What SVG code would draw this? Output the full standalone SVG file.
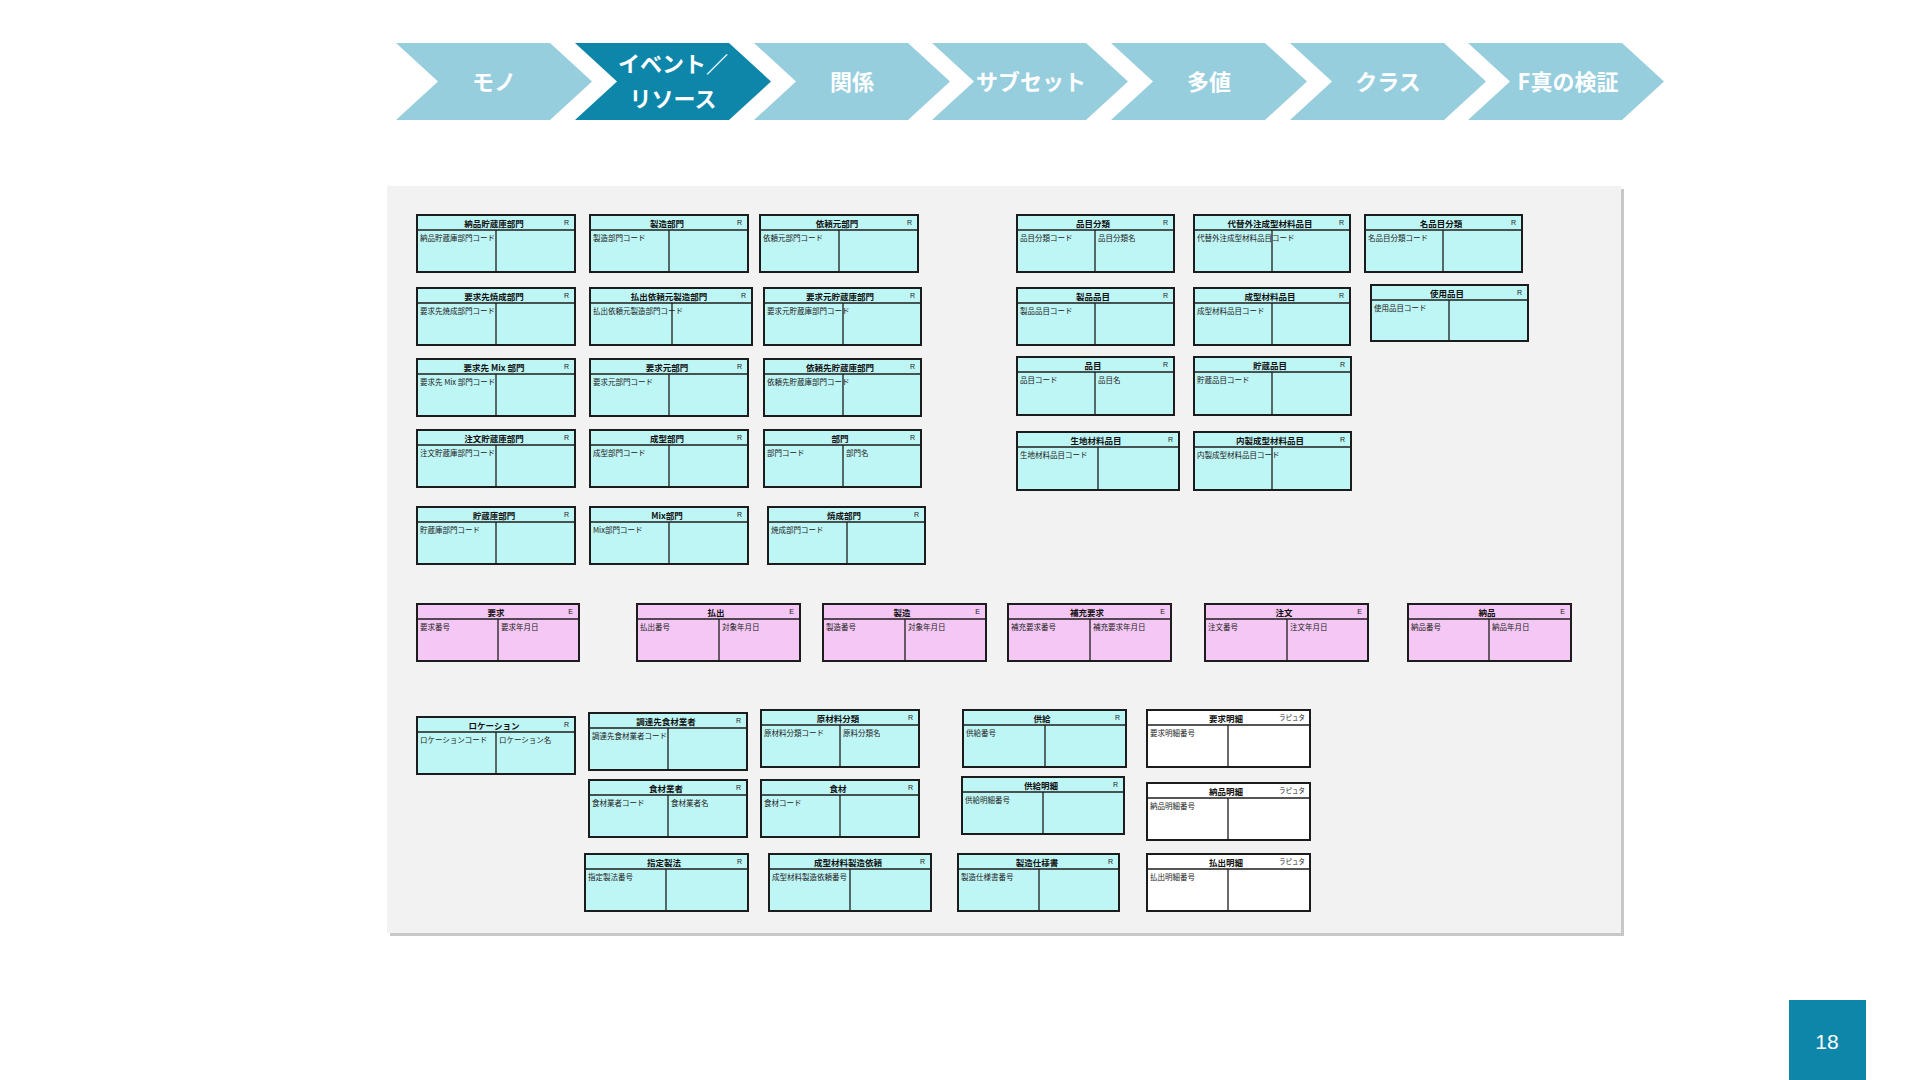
<svg xmlns="http://www.w3.org/2000/svg" width="1920" height="1080" viewBox="0 0 1920 1080">
<style>
.chev{fill:#97CEDE}
.chev.on{fill:#0E86AA}
.ct{font-family:"Noto Sans CJK JP",sans-serif;font-weight:bold;font-size:22px;fill:#fff;text-anchor:middle}
.ent rect{stroke:#1c1c1c;stroke-width:2}
.c rect{fill:#BEF5F5}
.p rect{fill:#F4C7F4}
.w rect{fill:#fff}
.ent line{stroke:#1c1c1c;stroke-width:1.3}
.t{font-family:"Noto Sans CJK JP",sans-serif;font-weight:bold;font-size:8.5px;fill:#111;text-anchor:middle}
.r{font-family:"Liberation Sans",sans-serif;font-size:7px;fill:#222;text-anchor:end}
.s{font-family:"Noto Sans CJK JP",sans-serif;font-size:6.5px;fill:#222;text-anchor:end}
.a{font-family:"Noto Sans CJK JP",sans-serif;font-size:7.5px;fill:#222}
</style>
<rect width="1920" height="1080" fill="#fff"/>
<g id="process">
<g id="step1"><polygon class="chev" points="396,43 550,43 592,81.5 550,120 396,120 438,81.5"/><text class="ct" x="494" y="90">モノ</text></g>
<g id="step2"><polygon class="chev on" points="575,43 729,43 771,81.5 729,120 575,120 617,81.5"/><text class="ct" x="673" y="72">イベント／</text><text class="ct" x="673" y="107">リソース</text></g>
<g id="step3"><polygon class="chev" points="754,43 908,43 950,81.5 908,120 754,120 796,81.5"/><text class="ct" x="852" y="90">関係</text></g>
<g id="step4"><polygon class="chev" points="932,43 1086,43 1128,81.5 1086,120 932,120 974,81.5"/><text class="ct" x="1031" y="90">サブセット</text></g>
<g id="step5"><polygon class="chev" points="1111,43 1265,43 1307,81.5 1265,120 1111,120 1153,81.5"/><text class="ct" x="1209" y="90">多値</text></g>
<g id="step6"><polygon class="chev" points="1290,43 1444,43 1486,81.5 1444,120 1290,120 1332,81.5"/><text class="ct" x="1388" y="90">クラス</text></g>
<g id="step7"><polygon class="chev" points="1468,43 1622,43 1664,81.5 1622,120 1468,120 1510,81.5"/><text class="ct" x="1568" y="90">F真の検証</text></g>
</g>
<g id="panel">
<rect x="390" y="189" width="1234" height="747" fill="#c8c8c8"/>
<rect x="387" y="186" width="1234" height="747" fill="#F2F2F2"/>
</g>
<g id="connectors"/>
<g id="nodes">
<g id="n-nouhin-chozo" class="ent c" transform="translate(417,215)"><rect width="158" height="57"/><line x1="0" y1="15" x2="158" y2="15"/><line x1="79" y1="15" x2="79" y2="57"/><text class="t" x="77" y="12">納品貯蔵庫部門</text><text class="r" x="152" y="10">R</text><text class="a" x="3" y="26">納品貯蔵庫部門コード</text></g>
<g id="n-seizo-bumon" class="ent c" transform="translate(590,215)"><rect width="158" height="57"/><line x1="0" y1="15" x2="158" y2="15"/><line x1="79" y1="15" x2="79" y2="57"/><text class="t" x="77" y="12">製造部門</text><text class="r" x="152" y="10">R</text><text class="a" x="3" y="26">製造部門コード</text></g>
<g id="n-iraimoto" class="ent c" transform="translate(760,215)"><rect width="158" height="57"/><line x1="0" y1="15" x2="158" y2="15"/><line x1="79" y1="15" x2="79" y2="57"/><text class="t" x="77" y="12">依頼元部門</text><text class="r" x="152" y="10">R</text><text class="a" x="3" y="26">依頼元部門コード</text></g>
<g id="n-yosaki-shosei" class="ent c" transform="translate(417,288)"><rect width="158" height="57"/><line x1="0" y1="15" x2="158" y2="15"/><line x1="79" y1="15" x2="79" y2="57"/><text class="t" x="77" y="12">要求先焼成部門</text><text class="r" x="152" y="10">R</text><text class="a" x="3" y="26">要求先焼成部門コード</text></g>
<g id="n-haraidashi-irai" class="ent c" transform="translate(590,288)"><rect width="162" height="57"/><line x1="0" y1="15" x2="162" y2="15"/><line x1="82" y1="15" x2="82" y2="57"/><text class="t" x="79" y="12">払出依頼元製造部門</text><text class="r" x="156" y="10">R</text><text class="a" x="3" y="26">払出依頼元製造部門コード</text></g>
<g id="n-yomoto-chozo" class="ent c" transform="translate(764,288)"><rect width="157" height="57"/><line x1="0" y1="15" x2="157" y2="15"/><line x1="79" y1="15" x2="79" y2="57"/><text class="t" x="76" y="12">要求元貯蔵庫部門</text><text class="r" x="151" y="10">R</text><text class="a" x="3" y="26">要求元貯蔵庫部門コード</text></g>
<g id="n-yosaki-mix" class="ent c" transform="translate(417,359)"><rect width="158" height="57"/><line x1="0" y1="15" x2="158" y2="15"/><line x1="79" y1="15" x2="79" y2="57"/><text class="t" x="77" y="12">要求先 Mix 部門</text><text class="r" x="152" y="10">R</text><text class="a" x="3" y="26">要求先 Mix 部門コード</text></g>
<g id="n-yomoto" class="ent c" transform="translate(590,359)"><rect width="158" height="57"/><line x1="0" y1="15" x2="158" y2="15"/><line x1="79" y1="15" x2="79" y2="57"/><text class="t" x="77" y="12">要求元部門</text><text class="r" x="152" y="10">R</text><text class="a" x="3" y="26">要求元部門コード</text></g>
<g id="n-iraisaki-chozo" class="ent c" transform="translate(764,359)"><rect width="157" height="57"/><line x1="0" y1="15" x2="157" y2="15"/><line x1="79" y1="15" x2="79" y2="57"/><text class="t" x="76" y="12">依頼先貯蔵庫部門</text><text class="r" x="151" y="10">R</text><text class="a" x="3" y="26">依頼先貯蔵庫部門コード</text></g>
<g id="n-chumon-chozo" class="ent c" transform="translate(417,430)"><rect width="158" height="57"/><line x1="0" y1="15" x2="158" y2="15"/><line x1="79" y1="15" x2="79" y2="57"/><text class="t" x="77" y="12">注文貯蔵庫部門</text><text class="r" x="152" y="10">R</text><text class="a" x="3" y="26">注文貯蔵庫部門コード</text></g>
<g id="n-seikei-bumon" class="ent c" transform="translate(590,430)"><rect width="158" height="57"/><line x1="0" y1="15" x2="158" y2="15"/><line x1="79" y1="15" x2="79" y2="57"/><text class="t" x="77" y="12">成型部門</text><text class="r" x="152" y="10">R</text><text class="a" x="3" y="26">成型部門コード</text></g>
<g id="n-bumon" class="ent c" transform="translate(764,430)"><rect width="157" height="57"/><line x1="0" y1="15" x2="157" y2="15"/><line x1="79" y1="15" x2="79" y2="57"/><text class="t" x="76" y="12">部門</text><text class="r" x="151" y="10">R</text><text class="a" x="3" y="26">部門コード</text><text class="a" x="82" y="26">部門名</text></g>
<g id="n-chozo-bumon" class="ent c" transform="translate(417,507)"><rect width="158" height="57"/><line x1="0" y1="15" x2="158" y2="15"/><line x1="79" y1="15" x2="79" y2="57"/><text class="t" x="77" y="12">貯蔵庫部門</text><text class="r" x="152" y="10">R</text><text class="a" x="3" y="26">貯蔵庫部門コード</text></g>
<g id="n-mix-bumon" class="ent c" transform="translate(590,507)"><rect width="158" height="57"/><line x1="0" y1="15" x2="158" y2="15"/><line x1="79" y1="15" x2="79" y2="57"/><text class="t" x="77" y="12">Mix部門</text><text class="r" x="152" y="10">R</text><text class="a" x="3" y="26">Mix部門コード</text></g>
<g id="n-shosei-bumon" class="ent c" transform="translate(768,507)"><rect width="157" height="57"/><line x1="0" y1="15" x2="157" y2="15"/><line x1="79" y1="15" x2="79" y2="57"/><text class="t" x="76" y="12">焼成部門</text><text class="r" x="151" y="10">R</text><text class="a" x="3" y="26">焼成部門コード</text></g>

<g id="n-hinmoku-bunrui" class="ent c" transform="translate(1017,215)"><rect width="157" height="57"/><line x1="0" y1="15" x2="157" y2="15"/><line x1="78" y1="15" x2="78" y2="57"/><text class="t" x="76" y="12">品目分類</text><text class="r" x="151" y="10">R</text><text class="a" x="3" y="26">品目分類コード</text><text class="a" x="81" y="26">品目分類名</text></g>
<g id="n-daitai" class="ent c" transform="translate(1194,215)"><rect width="156" height="57"/><line x1="0" y1="15" x2="156" y2="15"/><line x1="78" y1="15" x2="78" y2="57"/><text class="t" x="76" y="12">代替外注成型材料品目</text><text class="r" x="150" y="10">R</text><text class="a" x="3" y="26">代替外注成型材料品目コード</text></g>
<g id="n-mei-bunrui" class="ent c" transform="translate(1365,215)"><rect width="157" height="57"/><line x1="0" y1="15" x2="157" y2="15"/><line x1="78" y1="15" x2="78" y2="57"/><text class="t" x="76" y="12">名品目分類</text><text class="r" x="151" y="10">R</text><text class="a" x="3" y="26">名品目分類コード</text></g>
<g id="n-seihin-hinmoku" class="ent c" transform="translate(1017,288)"><rect width="157" height="57"/><line x1="0" y1="15" x2="157" y2="15"/><line x1="78" y1="15" x2="78" y2="57"/><text class="t" x="76" y="12">製品品目</text><text class="r" x="151" y="10">R</text><text class="a" x="3" y="26">製品品目コード</text></g>
<g id="n-seikei-zairyo" class="ent c" transform="translate(1194,288)"><rect width="156" height="57"/><line x1="0" y1="15" x2="156" y2="15"/><line x1="78" y1="15" x2="78" y2="57"/><text class="t" x="76" y="12">成型材料品目</text><text class="r" x="150" y="10">R</text><text class="a" x="3" y="26">成型材料品目コード</text></g>
<g id="n-shiyo-hinmoku" class="ent c" transform="translate(1371,285)"><rect width="157" height="56"/><line x1="0" y1="15" x2="157" y2="15"/><line x1="78" y1="15" x2="78" y2="56"/><text class="t" x="76" y="12">使用品目</text><text class="r" x="151" y="10">R</text><text class="a" x="3" y="26">使用品目コード</text></g>
<g id="n-hinmoku" class="ent c" transform="translate(1017,357)"><rect width="157" height="58"/><line x1="0" y1="15" x2="157" y2="15"/><line x1="78" y1="15" x2="78" y2="58"/><text class="t" x="76" y="12">品目</text><text class="r" x="151" y="10">R</text><text class="a" x="3" y="26">品目コード</text><text class="a" x="81" y="26">品目名</text></g>
<g id="n-chozo-hinmoku" class="ent c" transform="translate(1194,357)"><rect width="157" height="58"/><line x1="0" y1="15" x2="157" y2="15"/><line x1="78" y1="15" x2="78" y2="58"/><text class="t" x="76" y="12">貯蔵品目</text><text class="r" x="151" y="10">R</text><text class="a" x="3" y="26">貯蔵品目コード</text></g>
<g id="n-kiji" class="ent c" transform="translate(1017,432)"><rect width="162" height="58"/><line x1="0" y1="15" x2="162" y2="15"/><line x1="81" y1="15" x2="81" y2="58"/><text class="t" x="79" y="12">生地材料品目</text><text class="r" x="156" y="10">R</text><text class="a" x="3" y="26">生地材料品目コード</text></g>
<g id="n-naisei" class="ent c" transform="translate(1194,432)"><rect width="157" height="58"/><line x1="0" y1="15" x2="157" y2="15"/><line x1="78" y1="15" x2="78" y2="58"/><text class="t" x="76" y="12">内製成型材料品目</text><text class="r" x="151" y="10">R</text><text class="a" x="3" y="26">内製成型材料品目コード</text></g>

<g id="e-yokyu" class="ent p" transform="translate(417,604)"><rect width="162" height="57"/><line x1="0" y1="15" x2="162" y2="15"/><line x1="81" y1="15" x2="81" y2="57"/><text class="t" x="79" y="12">要求</text><text class="r" x="156" y="10">E</text><text class="a" x="3" y="26">要求番号</text><text class="a" x="84" y="26">要求年月日</text></g>
<g id="e-haraidashi" class="ent p" transform="translate(637,604)"><rect width="163" height="57"/><line x1="0" y1="15" x2="163" y2="15"/><line x1="82" y1="15" x2="82" y2="57"/><text class="t" x="79" y="12">払出</text><text class="r" x="157" y="10">E</text><text class="a" x="3" y="26">払出番号</text><text class="a" x="85" y="26">対象年月日</text></g>
<g id="e-seizo" class="ent p" transform="translate(823,604)"><rect width="163" height="57"/><line x1="0" y1="15" x2="163" y2="15"/><line x1="82" y1="15" x2="82" y2="57"/><text class="t" x="79" y="12">製造</text><text class="r" x="157" y="10">E</text><text class="a" x="3" y="26">製造番号</text><text class="a" x="85" y="26">対象年月日</text></g>
<g id="e-hoju" class="ent p" transform="translate(1008,604)"><rect width="163" height="57"/><line x1="0" y1="15" x2="163" y2="15"/><line x1="82" y1="15" x2="82" y2="57"/><text class="t" x="79" y="12">補充要求</text><text class="r" x="157" y="10">E</text><text class="a" x="3" y="26">補充要求番号</text><text class="a" x="85" y="26">補充要求年月日</text></g>
<g id="e-chumon" class="ent p" transform="translate(1205,604)"><rect width="163" height="57"/><line x1="0" y1="15" x2="163" y2="15"/><line x1="82" y1="15" x2="82" y2="57"/><text class="t" x="79" y="12">注文</text><text class="r" x="157" y="10">E</text><text class="a" x="3" y="26">注文番号</text><text class="a" x="85" y="26">注文年月日</text></g>
<g id="e-nohin" class="ent p" transform="translate(1408,604)"><rect width="163" height="57"/><line x1="0" y1="15" x2="163" y2="15"/><line x1="81" y1="15" x2="81" y2="57"/><text class="t" x="79" y="12">納品</text><text class="r" x="157" y="10">E</text><text class="a" x="3" y="26">納品番号</text><text class="a" x="84" y="26">納品年月日</text></g>

<g id="n-location" class="ent c" transform="translate(417,717)"><rect width="158" height="57"/><line x1="0" y1="15" x2="158" y2="15"/><line x1="79" y1="15" x2="79" y2="57"/><text class="t" x="77" y="12">ロケーション</text><text class="r" x="152" y="10">R</text><text class="a" x="3" y="26">ロケーションコード</text><text class="a" x="82" y="26">ロケーション名</text></g>
<g id="n-chotatsu" class="ent c" transform="translate(589,713)"><rect width="158" height="57"/><line x1="0" y1="15" x2="158" y2="15"/><line x1="79" y1="15" x2="79" y2="57"/><text class="t" x="77" y="12">調達先食材業者</text><text class="r" x="152" y="10">R</text><text class="a" x="3" y="26">調達先食材業者コード</text></g>
<g id="n-genzairyo" class="ent c" transform="translate(761,710)"><rect width="158" height="57"/><line x1="0" y1="15" x2="158" y2="15"/><line x1="79" y1="15" x2="79" y2="57"/><text class="t" x="77" y="12">原材料分類</text><text class="r" x="152" y="10">R</text><text class="a" x="3" y="26">原材料分類コード</text><text class="a" x="82" y="26">原料分類名</text></g>
<g id="n-shokuzai-gyosha" class="ent c" transform="translate(589,780)"><rect width="158" height="57"/><line x1="0" y1="15" x2="158" y2="15"/><line x1="79" y1="15" x2="79" y2="57"/><text class="t" x="77" y="12">食材業者</text><text class="r" x="152" y="10">R</text><text class="a" x="3" y="26">食材業者コード</text><text class="a" x="82" y="26">食材業者名</text></g>
<g id="n-shokuzai" class="ent c" transform="translate(761,780)"><rect width="158" height="57"/><line x1="0" y1="15" x2="158" y2="15"/><line x1="79" y1="15" x2="79" y2="57"/><text class="t" x="77" y="12">食材</text><text class="r" x="152" y="10">R</text><text class="a" x="3" y="26">食材コード</text></g>
<g id="n-kyokyu" class="ent c" transform="translate(963,710)"><rect width="163" height="57"/><line x1="0" y1="15" x2="163" y2="15"/><line x1="82" y1="15" x2="82" y2="57"/><text class="t" x="79" y="12">供給</text><text class="r" x="157" y="10">R</text><text class="a" x="3" y="26">供給番号</text></g>
<g id="n-kyokyu-meisai" class="ent c" transform="translate(962,777)"><rect width="162" height="57"/><line x1="0" y1="15" x2="162" y2="15"/><line x1="81" y1="15" x2="81" y2="57"/><text class="t" x="79" y="12">供給明細</text><text class="r" x="156" y="10">R</text><text class="a" x="3" y="26">供給明細番号</text></g>
<g id="n-yokyu-meisai" class="ent w" transform="translate(1147,710)"><rect width="163" height="57"/><line x1="0" y1="15" x2="163" y2="15"/><line x1="81" y1="15" x2="81" y2="57"/><text class="t" x="79" y="12">要求明細</text><text class="s" x="158" y="10">ラピュタ</text><text class="a" x="3" y="26">要求明細番号</text></g>
<g id="n-nohin-meisai" class="ent w" transform="translate(1147,783)"><rect width="163" height="57"/><line x1="0" y1="15" x2="163" y2="15"/><line x1="81" y1="15" x2="81" y2="57"/><text class="t" x="79" y="12">納品明細</text><text class="s" x="158" y="10">ラピュタ</text><text class="a" x="3" y="26">納品明細番号</text></g>
<g id="n-shitei" class="ent c" transform="translate(585,854)"><rect width="163" height="57"/><line x1="0" y1="15" x2="163" y2="15"/><line x1="81" y1="15" x2="81" y2="57"/><text class="t" x="79" y="12">指定製法</text><text class="r" x="157" y="10">R</text><text class="a" x="3" y="26">指定製法番号</text></g>
<g id="n-seikei-irai" class="ent c" transform="translate(769,854)"><rect width="162" height="57"/><line x1="0" y1="15" x2="162" y2="15"/><line x1="81" y1="15" x2="81" y2="57"/><text class="t" x="79" y="12">成型材料製造依頼</text><text class="r" x="156" y="10">R</text><text class="a" x="3" y="26">成型材料製造依頼番号</text></g>
<g id="n-shiyosho" class="ent c" transform="translate(958,854)"><rect width="161" height="57"/><line x1="0" y1="15" x2="161" y2="15"/><line x1="81" y1="15" x2="81" y2="57"/><text class="t" x="79" y="12">製造仕様書</text><text class="r" x="155" y="10">R</text><text class="a" x="3" y="26">製造仕様書番号</text></g>
<g id="n-haraidashi-meisai" class="ent w" transform="translate(1147,854)"><rect width="163" height="57"/><line x1="0" y1="15" x2="163" y2="15"/><line x1="81" y1="15" x2="81" y2="57"/><text class="t" x="79" y="12">払出明細</text><text class="s" x="158" y="10">ラピュタ</text><text class="a" x="3" y="26">払出明細番号</text></g>
</g>
<g id="page-number"><rect x="1789" y="1000" width="77" height="80" fill="#0E86AA"/><text x="1827" y="1049" font-family="Liberation Sans, sans-serif" font-size="21" fill="#fff" text-anchor="middle">18</text></g>
</svg>
